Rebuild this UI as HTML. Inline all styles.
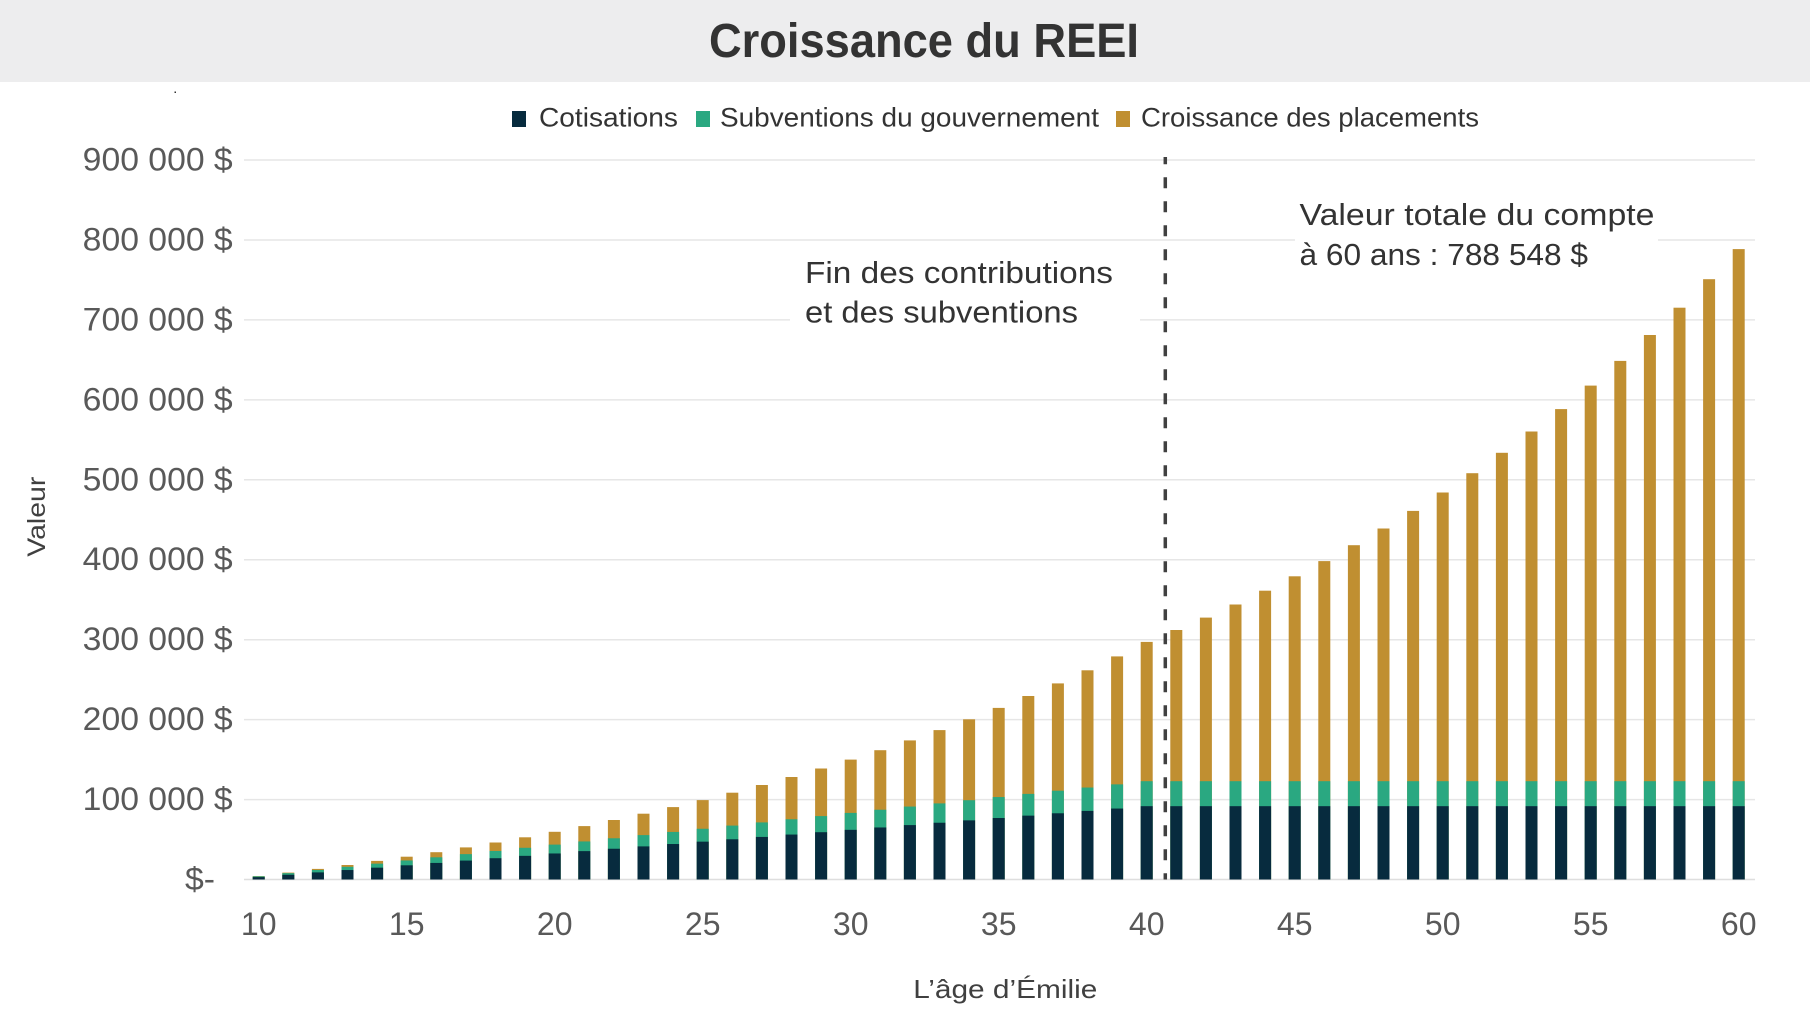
<!DOCTYPE html>
<html><head><meta charset="utf-8"><style>
html,body{margin:0;padding:0;background:#fff;}
svg{display:block;}
.gd{fill:#c08f31}.gr{fill:#2aa881}.nv{fill:#072b3e}
.yt{font-family:"Liberation Sans",sans-serif;font-size:32px;fill:#595959}
.xt{font-family:"Liberation Sans",sans-serif;font-size:32px;fill:#595959;text-anchor:middle}
.an{font-family:"Liberation Sans",sans-serif;font-size:31px;fill:#333}
.lg{font-family:"Liberation Sans",sans-serif;font-size:27px;fill:#333}
</style></head><body>
<svg width="1810" height="1015" viewBox="0 0 1810 1015" xmlns="http://www.w3.org/2000/svg">
<rect x="0" y="0" width="1810" height="1015" fill="#fff"/>
<rect x="0" y="0" width="1810" height="82" fill="#ededee"/>
<text x="709" y="57" font-family="Liberation Sans, sans-serif" font-weight="bold" font-size="48" fill="#333" textLength="430" lengthAdjust="spacingAndGlyphs">Croissance du REEI</text>
<rect x="174.5" y="91.5" width="1.5" height="1.5" fill="#333"/>
<!-- legend -->
<rect x="512" y="111" width="14" height="16" class="nv"/>
<text x="539" y="126.5" class="lg" textLength="139" lengthAdjust="spacingAndGlyphs">Cotisations</text>
<rect x="696" y="111" width="14" height="16" class="gr"/>
<text x="720" y="126.5" class="lg" textLength="379" lengthAdjust="spacingAndGlyphs">Subventions du gouvernement</text>
<rect x="1116" y="111" width="14" height="16" class="gd"/>
<text x="1141" y="126.5" class="lg" textLength="338" lengthAdjust="spacingAndGlyphs">Croissance des placements</text>
<!-- gridlines -->
<g stroke="#e6e6e6" stroke-width="1.5">
<line x1="244" x2="1755" y1="160" y2="160"/>
<line x1="244" x2="1755" y1="240" y2="240"/>
<line x1="244" x2="1755" y1="319.9" y2="319.9"/>
<line x1="244" x2="1755" y1="399.9" y2="399.9"/>
<line x1="244" x2="1755" y1="479.8" y2="479.8"/>
<line x1="244" x2="1755" y1="559.7" y2="559.7"/>
<line x1="244" x2="1755" y1="639.7" y2="639.7"/>
<line x1="244" x2="1755" y1="719.6" y2="719.6"/>
<line x1="244" x2="1755" y1="799.6" y2="799.6"/>
<line x1="244" x2="1755" y1="879.5" y2="879.5" stroke="#dedede"/>
</g>
<!-- y labels -->
<text class="yt" x="82.7" y="170.5" textLength="150" lengthAdjust="spacingAndGlyphs">900 000 $</text>
<text class="yt" x="82.7" y="250.5" textLength="150" lengthAdjust="spacingAndGlyphs">800 000 $</text>
<text class="yt" x="82.7" y="330.4" textLength="150" lengthAdjust="spacingAndGlyphs">700 000 $</text>
<text class="yt" x="82.7" y="410.4" textLength="150" lengthAdjust="spacingAndGlyphs">600 000 $</text>
<text class="yt" x="82.7" y="490.3" textLength="150" lengthAdjust="spacingAndGlyphs">500 000 $</text>
<text class="yt" x="82.7" y="570.2" textLength="150" lengthAdjust="spacingAndGlyphs">400 000 $</text>
<text class="yt" x="82.7" y="650.2" textLength="150" lengthAdjust="spacingAndGlyphs">300 000 $</text>
<text class="yt" x="82.7" y="730.1" textLength="150" lengthAdjust="spacingAndGlyphs">200 000 $</text>
<text class="yt" x="82.7" y="810.1" textLength="150" lengthAdjust="spacingAndGlyphs">100 000 $</text>
<text class="yt" x="185" y="890" textLength="30" lengthAdjust="spacingAndGlyphs">$-</text>
<!-- annotation boxes -->
<rect x="790" y="250" width="350" height="80" fill="#fff"/>
<rect x="1295" y="190" width="363" height="85" fill="#fff"/>
<!-- bars -->
<g>
<rect class="gd" x="252.7" y="876.1" width="12" height="3.4"/><rect class="gr" x="252.7" y="876.32" width="12" height="3.18"/><rect class="nv" x="252.7" y="877.13" width="12" height="2.37"/>
<rect class="gd" x="282.3" y="872.6" width="12" height="6.9"/><rect class="gr" x="282.3" y="873.16" width="12" height="6.34"/><rect class="nv" x="282.3" y="874.77" width="12" height="4.73"/>
<rect class="gd" x="311.9" y="868.9" width="12" height="10.6"/><rect class="gr" x="311.9" y="869.98" width="12" height="9.52"/><rect class="nv" x="311.9" y="872.4" width="12" height="7.1"/>
<rect class="gd" x="341.5" y="865.0" width="12" height="14.5"/><rect class="gr" x="341.5" y="866.82" width="12" height="12.68"/><rect class="nv" x="341.5" y="870.04" width="12" height="9.46"/>
<rect class="gd" x="371.1" y="860.9" width="12" height="18.6"/><rect class="gr" x="371.1" y="863.64" width="12" height="15.86"/><rect class="nv" x="371.1" y="867.67" width="12" height="11.83"/>
<rect class="gd" x="400.7" y="856.7" width="12" height="22.8"/><rect class="gr" x="400.7" y="860.47" width="12" height="19.03"/><rect class="nv" x="400.7" y="865.31" width="12" height="14.19"/>
<rect class="gd" x="430.3" y="852.2" width="12" height="27.3"/><rect class="gr" x="430.3" y="857.3" width="12" height="22.2"/><rect class="nv" x="430.3" y="862.94" width="12" height="16.56"/>
<rect class="gd" x="459.9" y="847.4" width="12" height="32.1"/><rect class="gr" x="459.9" y="854.13" width="12" height="25.37"/><rect class="nv" x="459.9" y="860.58" width="12" height="18.92"/>
<rect class="gd" x="489.5" y="842.5" width="12" height="37.0"/><rect class="gr" x="489.5" y="850.96" width="12" height="28.54"/><rect class="nv" x="489.5" y="858.21" width="12" height="21.29"/>
<rect class="gd" x="519.1" y="837.3" width="12" height="42.2"/><rect class="gr" x="519.1" y="847.79" width="12" height="31.71"/><rect class="nv" x="519.1" y="855.85" width="12" height="23.65"/>
<rect class="gd" x="548.7" y="831.8" width="12" height="47.7"/><rect class="gr" x="548.7" y="844.61" width="12" height="34.89"/><rect class="nv" x="548.7" y="853.48" width="12" height="26.02"/>
<rect class="gd" x="578.3" y="826.1" width="12" height="53.4"/><rect class="gr" x="578.3" y="841.45" width="12" height="38.05"/><rect class="nv" x="578.3" y="851.12" width="12" height="28.38"/>
<rect class="gd" x="607.9" y="820.0" width="12" height="59.5"/><rect class="gr" x="607.9" y="838.27" width="12" height="41.23"/><rect class="nv" x="607.9" y="848.75" width="12" height="30.75"/>
<rect class="gd" x="637.5" y="813.7" width="12" height="65.8"/><rect class="gr" x="637.5" y="835.11" width="12" height="44.39"/><rect class="nv" x="637.5" y="846.39" width="12" height="33.11"/>
<rect class="gd" x="667.1" y="807.1" width="12" height="72.4"/><rect class="gr" x="667.1" y="831.93" width="12" height="47.57"/><rect class="nv" x="667.1" y="844.02" width="12" height="35.48"/>
<rect class="gd" x="696.7" y="800.1" width="12" height="79.4"/><rect class="gr" x="696.7" y="828.76" width="12" height="50.74"/><rect class="nv" x="696.7" y="841.66" width="12" height="37.84"/>
<rect class="gd" x="726.3" y="792.7" width="12" height="86.8"/><rect class="gr" x="726.3" y="825.59" width="12" height="53.91"/><rect class="nv" x="726.3" y="839.29" width="12" height="40.21"/>
<rect class="gd" x="755.9" y="785.0" width="12" height="94.5"/><rect class="gr" x="755.9" y="822.42" width="12" height="57.08"/><rect class="nv" x="755.9" y="836.93" width="12" height="42.57"/>
<rect class="gd" x="785.5" y="777.0" width="12" height="102.5"/><rect class="gr" x="785.5" y="819.25" width="12" height="60.25"/><rect class="nv" x="785.5" y="834.56" width="12" height="44.94"/>
<rect class="gd" x="815.1" y="768.5" width="12" height="111.0"/><rect class="gr" x="815.1" y="816.08" width="12" height="63.42"/><rect class="nv" x="815.1" y="832.2" width="12" height="47.3"/>
<rect class="gd" x="844.7" y="759.6" width="12" height="119.9"/><rect class="gr" x="844.7" y="812.9" width="12" height="66.6"/><rect class="nv" x="844.7" y="829.83" width="12" height="49.67"/>
<rect class="gd" x="874.3" y="750.2" width="12" height="129.3"/><rect class="gr" x="874.3" y="809.74" width="12" height="69.76"/><rect class="nv" x="874.3" y="827.47" width="12" height="52.03"/>
<rect class="gd" x="903.9" y="740.4" width="12" height="139.1"/><rect class="gr" x="903.9" y="806.56" width="12" height="72.94"/><rect class="nv" x="903.9" y="825.1" width="12" height="54.4"/>
<rect class="gd" x="933.5" y="730.1" width="12" height="149.4"/><rect class="gr" x="933.5" y="803.4" width="12" height="76.1"/><rect class="nv" x="933.5" y="822.74" width="12" height="56.76"/>
<rect class="gd" x="963.1" y="719.3" width="12" height="160.2"/><rect class="gr" x="963.1" y="800.22" width="12" height="79.28"/><rect class="nv" x="963.1" y="820.37" width="12" height="59.13"/>
<rect class="gd" x="992.7" y="707.9" width="12" height="171.6"/><rect class="gr" x="992.7" y="797.05" width="12" height="82.45"/><rect class="nv" x="992.7" y="818.01" width="12" height="61.49"/>
<rect class="gd" x="1022.3" y="696.0" width="12" height="183.5"/><rect class="gr" x="1022.3" y="793.88" width="12" height="85.62"/><rect class="nv" x="1022.3" y="815.64" width="12" height="63.86"/>
<rect class="gd" x="1051.9" y="683.4" width="12" height="196.1"/><rect class="gr" x="1051.9" y="790.71" width="12" height="88.79"/><rect class="nv" x="1051.9" y="813.28" width="12" height="66.22"/>
<rect class="gd" x="1081.5" y="670.3" width="12" height="209.2"/><rect class="gr" x="1081.5" y="787.54" width="12" height="91.96"/><rect class="nv" x="1081.5" y="810.91" width="12" height="68.59"/>
<rect class="gd" x="1111.1" y="656.4" width="12" height="223.1"/><rect class="gr" x="1111.1" y="784.37" width="12" height="95.13"/><rect class="nv" x="1111.1" y="808.55" width="12" height="70.95"/>
<rect class="gd" x="1140.7" y="641.9" width="12" height="237.6"/><rect class="gr" x="1140.7" y="781.19" width="12" height="98.31"/><rect class="nv" x="1140.7" y="806.18" width="12" height="73.32"/>
<rect class="gd" x="1170.3" y="630.0" width="12" height="249.5"/><rect class="gr" x="1170.3" y="781.19" width="12" height="98.31"/><rect class="nv" x="1170.3" y="806.18" width="12" height="73.32"/>
<rect class="gd" x="1199.9" y="617.6" width="12" height="261.9"/><rect class="gr" x="1199.9" y="781.19" width="12" height="98.31"/><rect class="nv" x="1199.9" y="806.18" width="12" height="73.32"/>
<rect class="gd" x="1229.5" y="604.5" width="12" height="275.0"/><rect class="gr" x="1229.5" y="781.19" width="12" height="98.31"/><rect class="nv" x="1229.5" y="806.18" width="12" height="73.32"/>
<rect class="gd" x="1259.1" y="590.7" width="12" height="288.8"/><rect class="gr" x="1259.1" y="781.19" width="12" height="98.31"/><rect class="nv" x="1259.1" y="806.18" width="12" height="73.32"/>
<rect class="gd" x="1288.7" y="576.3" width="12" height="303.2"/><rect class="gr" x="1288.7" y="781.19" width="12" height="98.31"/><rect class="nv" x="1288.7" y="806.18" width="12" height="73.32"/>
<rect class="gd" x="1318.3" y="561.1" width="12" height="318.4"/><rect class="gr" x="1318.3" y="781.19" width="12" height="98.31"/><rect class="nv" x="1318.3" y="806.18" width="12" height="73.32"/>
<rect class="gd" x="1347.9" y="545.2" width="12" height="334.3"/><rect class="gr" x="1347.9" y="781.19" width="12" height="98.31"/><rect class="nv" x="1347.9" y="806.18" width="12" height="73.32"/>
<rect class="gd" x="1377.5" y="528.5" width="12" height="351.0"/><rect class="gr" x="1377.5" y="781.19" width="12" height="98.31"/><rect class="nv" x="1377.5" y="806.18" width="12" height="73.32"/>
<rect class="gd" x="1407.1" y="510.9" width="12" height="368.6"/><rect class="gr" x="1407.1" y="781.19" width="12" height="98.31"/><rect class="nv" x="1407.1" y="806.18" width="12" height="73.32"/>
<rect class="gd" x="1436.7" y="492.5" width="12" height="387.0"/><rect class="gr" x="1436.7" y="781.19" width="12" height="98.31"/><rect class="nv" x="1436.7" y="806.18" width="12" height="73.32"/>
<rect class="gd" x="1466.3" y="473.2" width="12" height="406.3"/><rect class="gr" x="1466.3" y="781.19" width="12" height="98.31"/><rect class="nv" x="1466.3" y="806.18" width="12" height="73.32"/>
<rect class="gd" x="1495.9" y="452.8" width="12" height="426.7"/><rect class="gr" x="1495.9" y="781.19" width="12" height="98.31"/><rect class="nv" x="1495.9" y="806.18" width="12" height="73.32"/>
<rect class="gd" x="1525.5" y="431.5" width="12" height="448.0"/><rect class="gr" x="1525.5" y="781.19" width="12" height="98.31"/><rect class="nv" x="1525.5" y="806.18" width="12" height="73.32"/>
<rect class="gd" x="1555.1" y="409.1" width="12" height="470.4"/><rect class="gr" x="1555.1" y="781.19" width="12" height="98.31"/><rect class="nv" x="1555.1" y="806.18" width="12" height="73.32"/>
<rect class="gd" x="1584.7" y="385.6" width="12" height="493.9"/><rect class="gr" x="1584.7" y="781.19" width="12" height="98.31"/><rect class="nv" x="1584.7" y="806.18" width="12" height="73.32"/>
<rect class="gd" x="1614.3" y="360.9" width="12" height="518.6"/><rect class="gr" x="1614.3" y="781.19" width="12" height="98.31"/><rect class="nv" x="1614.3" y="806.18" width="12" height="73.32"/>
<rect class="gd" x="1643.9" y="335.0" width="12" height="544.5"/><rect class="gr" x="1643.9" y="781.19" width="12" height="98.31"/><rect class="nv" x="1643.9" y="806.18" width="12" height="73.32"/>
<rect class="gd" x="1673.5" y="307.7" width="12" height="571.8"/><rect class="gr" x="1673.5" y="781.19" width="12" height="98.31"/><rect class="nv" x="1673.5" y="806.18" width="12" height="73.32"/>
<rect class="gd" x="1703.1" y="279.2" width="12" height="600.3"/><rect class="gr" x="1703.1" y="781.19" width="12" height="98.31"/><rect class="nv" x="1703.1" y="806.18" width="12" height="73.32"/>
<rect class="gd" x="1732.7" y="249.1" width="12" height="630.4"/><rect class="gr" x="1732.7" y="781.19" width="12" height="98.31"/><rect class="nv" x="1732.7" y="806.18" width="12" height="73.32"/>
</g>
<!-- dashed line -->
<line x1="1165.3" y1="157" x2="1165.3" y2="879.5" stroke="#404040" stroke-width="3.5" stroke-dasharray="11 13" stroke-dashoffset="3.7"/>
<!-- annotations -->
<text class="an" x="805" y="283" textLength="308" lengthAdjust="spacingAndGlyphs">Fin des contributions</text>
<text class="an" x="805" y="322.5" textLength="273" lengthAdjust="spacingAndGlyphs">et des subventions</text>
<text class="an" x="1299.5" y="225" textLength="355" lengthAdjust="spacingAndGlyphs">Valeur totale du compte</text>
<text class="an" x="1299.5" y="265" textLength="288.5" lengthAdjust="spacingAndGlyphs">à 60 ans : 788 548 $</text>
<!-- x labels -->
<text class="xt" x="258.7" y="935">10</text>
<text class="xt" x="406.7" y="935">15</text>
<text class="xt" x="554.7" y="935">20</text>
<text class="xt" x="702.7" y="935">25</text>
<text class="xt" x="850.7" y="935">30</text>
<text class="xt" x="998.7" y="935">35</text>
<text class="xt" x="1146.7" y="935">40</text>
<text class="xt" x="1294.7" y="935">45</text>
<text class="xt" x="1442.7" y="935">50</text>
<text class="xt" x="1590.7" y="935">55</text>
<text class="xt" x="1738.7" y="935">60</text>
<!-- axis titles -->
<text x="913.3" y="998" font-family="Liberation Sans, sans-serif" font-size="26" fill="#404040" textLength="184" lengthAdjust="spacingAndGlyphs">L’âge d’Émilie</text>
<text transform="translate(45,516.7) rotate(-90)" text-anchor="middle" font-family="Liberation Sans, sans-serif" font-size="25" fill="#404040" textLength="80" lengthAdjust="spacingAndGlyphs">Valeur</text>
</svg>
</body></html>
